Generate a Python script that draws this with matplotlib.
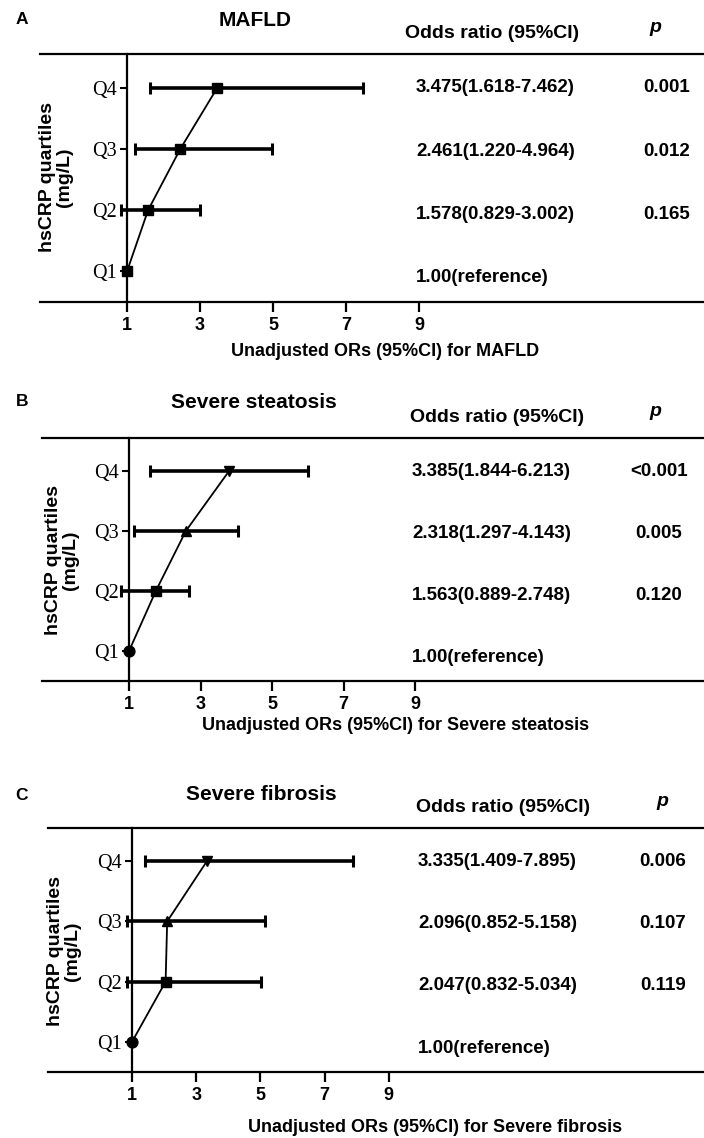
import matplotlib
matplotlib.use('Agg')
from matplotlib import pyplot as plt
from matplotlib import transforms

W, H = 704, 1138

quartiles = ['Q1', 'Q2', 'Q3', 'Q4']
quartile_pos = [1, 2, 3, 4]
x_ticks = [1, 3, 5, 7, 9]

# MAFLD
mafld_or = [1.0, 1.578, 2.461, 3.475]
mafld_low = [1.0, 0.829, 1.220, 1.618]
mafld_high = [1.0, 3.002, 4.964, 7.462]
mafld_text = ['1.00(reference)', '1.578(0.829-3.002)', '2.461(1.220-4.964)', '3.475(1.618-7.462)']
mafld_p = ['', '0.165', '0.012', '0.001']

# Severe steatosis (points as drawn in the plot, they sit a bit off the table values)
steatosis_or = [1.0, 1.75, 2.59, 3.80]
steatosis_low = [1.0, 0.78, 1.14, 1.59]
steatosis_high = [1.0, 2.69, 4.05, 6.01]
steatosis_text = ['1.00(reference)', '1.563(0.889-2.748)', '2.318(1.297-4.143)', '3.385(1.844-6.213)']
steatosis_p = ['', '0.120', '0.005', '<0.001']

# Severe fibrosis
fibrosis_or = [1.0, 2.047, 2.096, 3.335]
fibrosis_low = [1.0, 0.832, 0.852, 1.409]
fibrosis_high = [1.0, 5.034, 5.158, 7.895]
fibrosis_text = ['1.00(reference)', '2.047(0.832-5.034)', '2.096(0.852-5.158)', '3.335(1.409-7.895)']
fibrosis_p = ['', '0.119', '0.107', '0.006']

SANS = 'Liberation Sans'
SERIF = 'Liberation Serif'


def fx(px):
    return px / W


def fy(py):
    return 1 - py / H


def add_panel(fig, lay, ors, lows, highs, markers, or_text, p_text, letter, title, xlabel):
    left = lay['left']
    ax = fig.add_axes([fx(left), fy(lay['bottom']), 1 - fx(left), (lay['bottom'] - lay['top']) / H])
    unit = lay['unit']
    ax.set_xlim(1 - (lay['x_one'] - left) / unit, 1 + (W - lay['x_one']) / unit)
    ax.set_ylim(0.5, 4.55)

    # axis look
    ax.spines['right'].set_visible(False)
    ax.spines['left'].set_position(('data', 1))
    for s in ['left', 'top', 'bottom']:
        ax.spines[s].set_linewidth(1.6)
    ax.set_yticks(quartile_pos, quartiles)
    ax.set_xticks(x_ticks, [str(t) for t in x_ticks])
    ax.tick_params(axis='y', length=5, width=1.5, pad=2.5, labelsize=14.5)
    ax.tick_params(axis='x', length=7.5, width=1.6, pad=3, labelsize=13)
    for lbl in ax.get_yticklabels():
        lbl.set_fontfamily(SERIF)
    for lbl in ax.get_xticklabels():
        lbl.set_fontfamily(SANS)
        lbl.set_fontweight('bold')

    # error bars (Q1 is the reference, no bar)
    for i in range(1, len(ors)):
        ax.errorbar(ors[i], quartile_pos[i], xerr=[[ors[i] - lows[i]], [highs[i] - ors[i]]],
                    fmt='none', ecolor='black', elinewidth=2.6, capsize=4.2, capthick=2.2, zorder=3)
    ax.plot(ors, quartile_pos, color='black', lw=1.3, zorder=4)
    for i in range(len(ors)):
        m = markers[i]
        ms = 7.6 if m == 's' else 7.8
        ax.plot(ors[i], quartile_pos[i], marker=m, ms=ms, color='black', zorder=5, clip_on=False)

    # table on the right
    tr = transforms.blended_transform_factory(fig.transFigure, ax.transData)
    for i in range(len(ors)):
        yy = quartile_pos[i] - 0.035 * (4 - quartile_pos[i])
        ax.text(fx(lay['text_x']), yy, or_text[i], transform=tr, ha='left', va='center',
                fontsize=13.5, fontweight='bold', family=SANS)
        if p_text[i]:
            ax.text(fx(lay['p_x']), yy, p_text[i], transform=tr, ha='center', va='center',
                    fontsize=13.5, fontweight='bold', family=SANS)

    top = lay['top']
    fig.text(fx(lay['head_x']), fy(top - 21), 'Odds ratio (95%CI)', ha='center', va='center',
             fontsize=14, fontweight='bold', family=SANS)
    fig.text(fx(lay['phead_x']), fy(top - 27), 'p', ha='center', va='center',
             fontsize=14, fontweight='bold', style='italic', family=SANS)
    fig.text(fx(22), fy(lay['title_y']), letter, ha='center', va='center',
             fontsize=12.5, fontweight='bold', family=SANS)
    fig.text(fx(lay['title_x']), fy(lay['title_y']), title, ha='center', va='center',
             fontsize=15, fontweight='bold', family=SANS)
    fig.text(fx(lay['ylab_x']), fy(lay['ylab_y']), 'hsCRP quartiles\n(mg/L)', ha='center', va='center',
             rotation=90, fontsize=14, fontweight='bold', family=SANS, linespacing=1.05)
    fig.text(fx(lay['xlab_x']), fy(lay['xlab_y']), xlabel, ha='center', va='center',
             fontsize=13, fontweight='bold', family=SANS)
    return ax


def run():
    fig = plt.figure(figsize=(W / 100, H / 100), dpi=100)

    lay_a = dict(left=40, top=54, bottom=302, x_one=127, unit=36.5, text_x=416, p_x=667,
                 head_x=492, phead_x=655, title_x=255, title_y=20, ylab_x=56, ylab_y=177,
                 xlab_x=385, xlab_y=352)
    lay_b = dict(left=42, top=438, bottom=681, x_one=129, unit=35.75, text_x=412, p_x=659,
                 head_x=497, phead_x=655, title_x=254, title_y=402, ylab_x=62, ylab_y=560,
                 xlab_x=396, xlab_y=725)
    lay_c = dict(left=48, top=828, bottom=1072, x_one=132, unit=32.1, text_x=418, p_x=663,
                 head_x=503, phead_x=662, title_x=261, title_y=795, ylab_x=64, ylab_y=951,
                 xlab_x=435, xlab_y=1128)

    add_panel(fig, lay_a, mafld_or, mafld_low, mafld_high, ['s', 's', 's', 's'],
              mafld_text, mafld_p, 'A', 'MAFLD', 'Unadjusted ORs (95%CI) for MAFLD')
    add_panel(fig, lay_b, steatosis_or, steatosis_low, steatosis_high, ['o', 's', '^', 'v'],
              steatosis_text, steatosis_p, 'B', 'Severe steatosis',
              'Unadjusted ORs (95%CI) for Severe steatosis')
    add_panel(fig, lay_c, fibrosis_or, fibrosis_low, fibrosis_high, ['o', 's', '^', 'v'],
              fibrosis_text, fibrosis_p, 'C', 'Severe fibrosis',
              'Unadjusted ORs (95%CI) for Severe fibrosis')

    fig.savefig('out.png', dpi=100)


if __name__ == '__main__':
    run()
